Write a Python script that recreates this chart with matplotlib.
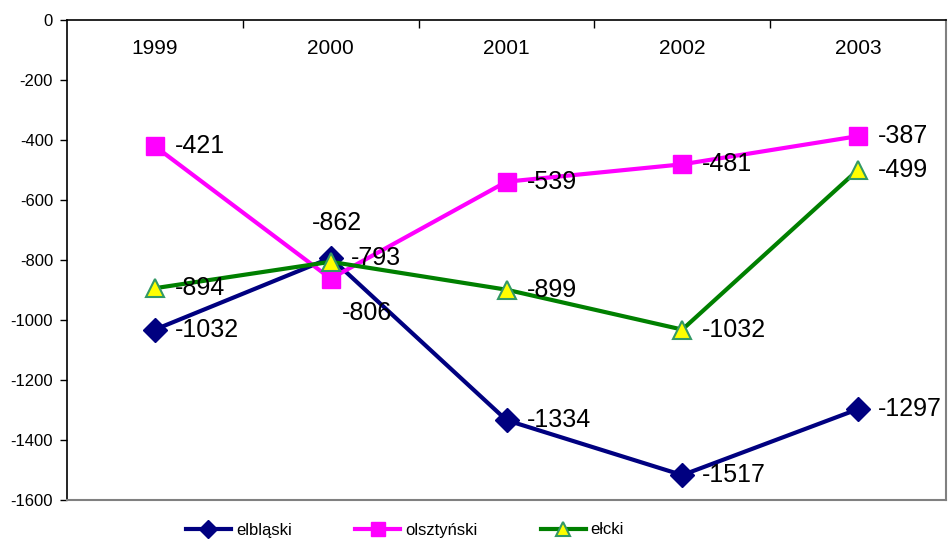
import numpy as np
import matplotlib
matplotlib.use('Agg')
import matplotlib.pyplot as plt

plt.rcParams['font.family'] = ['Liberation Sans', 'DejaVu Sans']
plt.rcParams['axes.unicode_minus'] = False

years = ['1999', '2000', '2001', '2002', '2003']
elblaski = [-1032, -793, -1334, -1517, -1297]
olsztynski = [-421, -862, -539, -481, -387]
elcki = [-894, -806, -899, -1032, -499]

# label offsets in pixels (left edge of text, vertical centre)
default_off = (20, 0)
special_off = {
    ('olsztyński', 1): (-19, 56),
    ('ełcki', 1): (11, -51),
}

fig = plt.figure(figsize=(9.49, 5.40), dpi=100)
ax = fig.add_axes([67/949, 1-500/540, (946-67)/949, 480/540])

x = np.arange(len(years))
series = [
    ('elbląski', elblaski, dict(color='#000080', marker='D', markersize=12,
                                markerfacecolor='#000080', markeredgecolor='#000080')),
    ('olsztyński', olsztynski, dict(color='#FF00FF', marker='s', markersize=13,
                                    markerfacecolor='#FF00FF', markeredgecolor='#FF00FF')),
    ('ełcki', elcki, dict(color='#008000', marker='^', markersize=13,
                          markerfacecolor='#FFFF00', markeredgecolor='#339966',
                          markeredgewidth=1.5)),
]
for name, vals, st in series:
    ax.plot(x, vals, linewidth=3, label=name, **st)
for name, vals, st in series:
    for i, v in enumerate(vals):
        dx, dy = special_off.get((name, i), default_off)
        ax.annotate(str(v), (i, v), xytext=(dx, dy), textcoords='offset pixels',
                    ha='left', va='center', fontsize=18)

ax.set_xlim(-0.5, 4.5)
ax.set_ylim(-1600, 0)
ax.set_yticks(np.arange(-1600, 1, 200))
ax.tick_params(axis='y', direction='out', length=5, pad=5, labelsize=12, width=1)

ax.xaxis.set_ticks_position('top')
ax.set_xticks(x, years)
ax.set_xticks(x[:-1] + 0.5, minor=True)
ax.tick_params(axis='x', which='major', length=0, pad=-27, labelsize=15)
ax.tick_params(axis='x', which='minor', direction='in', length=6, width=1)

for s in ['left', 'top']:
    ax.spines[s].set_color('black')
    ax.spines[s].set_linewidth(1.2)
for s in ['right', 'bottom']:
    ax.spines[s].set_color('#808080')
    ax.spines[s].set_linewidth(1.5)

fig.legend(loc='center', bbox_to_anchor=(405/949, 1-530/540), ncol=3, frameon=False,
           fontsize=12, handlelength=2.7, handletextpad=0.3, columnspacing=3.8,
           markerscale=0.75)

fig.savefig('out.png', dpi=100, facecolor='white')
